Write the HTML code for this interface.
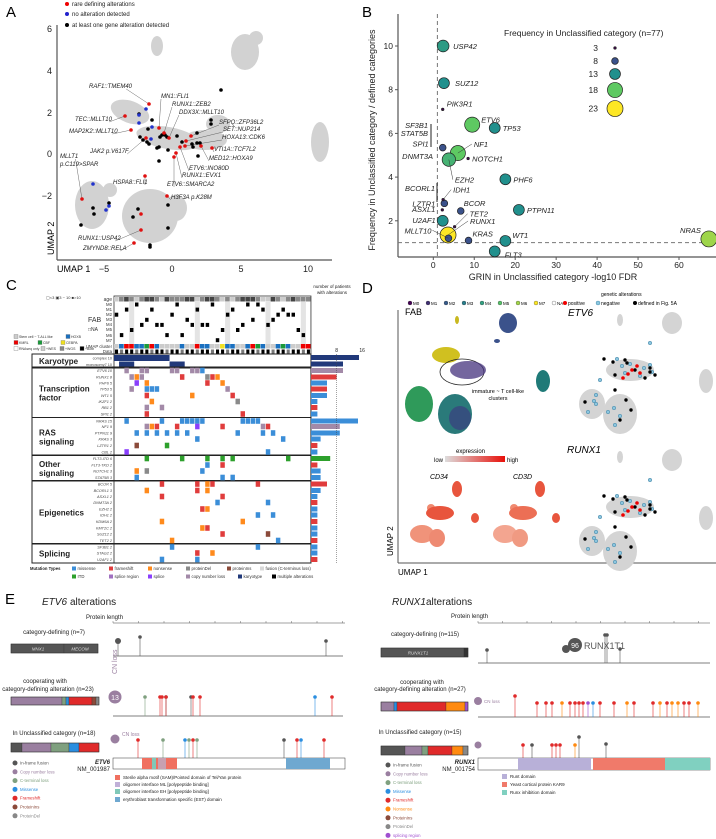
<!DOCTYPE html>
<html><head><meta charset="utf-8"><style>
body{margin:0;background:#fff;}
svg{display:block;font-family:"Liberation Sans",Arial,sans-serif;}
.it{font-style:italic}
</style></head><body>
<svg id="fig" width="716" height="839" viewBox="0 0 716 839" xmlns="http://www.w3.org/2000/svg">
<text x="6" y="17" font-size="15">A</text>
<text x="362" y="17" font-size="15">B</text>
<text x="6" y="290" font-size="15">C</text>
<text x="362" y="293" font-size="15">D</text>
<text x="5" y="604" font-size="15">E</text>

<g id="panelA">
 <g fill="#d2d2d2">
  <ellipse cx="157" cy="46" rx="6" ry="10"/>
  <ellipse cx="245" cy="52" rx="14" ry="18"/>
  <ellipse cx="256" cy="38" rx="7" ry="7"/>
  <ellipse cx="320" cy="142" rx="9" ry="20"/>
  <ellipse cx="130" cy="112" rx="20" ry="11" transform="rotate(20 130 112)"/>
  <ellipse cx="168" cy="138" rx="32" ry="11" transform="rotate(10 168 138)"/>
  <ellipse cx="205" cy="140" rx="22" ry="10"/>
  <ellipse cx="218" cy="124" rx="12" ry="9"/>
  <ellipse cx="92" cy="205" rx="17" ry="24"/>
  <ellipse cx="150" cy="216" rx="28" ry="27"/>
  <ellipse cx="176" cy="208" rx="11" ry="13"/>
  <ellipse cx="110" cy="190" rx="7" ry="7"/>
 </g>
 <line x1="57" y1="25" x2="57" y2="260" stroke="#555" stroke-width="1.2"/>
 <line x1="57" y1="260" x2="332" y2="260" stroke="#555" stroke-width="1.2"/>
 <g font-size="9" fill="#222" text-anchor="end">
  <text x="52" y="32">6</text><text x="52" y="74">4</text><text x="52" y="116">2</text><text x="52" y="157">0</text><text x="52" y="199">−2</text>
 </g>
 <g font-size="9" fill="#222" text-anchor="middle">
  <text x="104" y="272">−5</text><text x="172" y="272">0</text><text x="241" y="272">5</text><text x="308" y="272">10</text>
 </g>
 <text x="57" y="272" font-size="9">UMAP 1</text>
 <text x="54" y="255" font-size="9" transform="rotate(-90 54 255)">UMAP 2</text>
 <g font-size="6" fill="#222">
  <circle cx="67" cy="4" r="2" fill="#e00"/><text x="72" y="6">rare defining alterations</text>
  <circle cx="67" cy="14" r="2" fill="#22c"/><text x="72" y="16">no alteration detected</text>
  <circle cx="67" cy="25" r="2" fill="#000"/><text x="72" y="27">at least one gene alteration detected</text>
 </g>
 <g id="aLabels" font-size="6" class="it" fill="#222"></g>
 <g id="aPoints"></g>
</g>

<g id="panelB"></g>
<g id="panelC"></g>

<g id="panelD">
 <line x1="398" y1="310" x2="398" y2="563" stroke="#555" stroke-width="1"/>
 <line x1="398" y1="563" x2="716" y2="563" stroke="#555" stroke-width="1"/>
 <text x="398" y="575" font-size="8">UMAP 1</text>
 <text x="393" y="556" font-size="8" transform="rotate(-90 393 556)">UMAP 2</text>
 <text x="405" y="315" font-size="9">FAB</text>
 <text x="568" y="316" font-size="10" class="it">ETV6</text>
 <text x="567" y="453" font-size="10" class="it">RUNX1</text>
 <text x="601" y="296" font-size="5">genetic alterations</text>
 <g font-size="5">
  <circle cx="565" cy="303" r="2" fill="#e00"/><text x="568" y="305">positive</text>
  <circle cx="598" cy="303" r="2" fill="#8cc6df" stroke="#4a90b0" stroke-width=".5"/><text x="601" y="305">negative</text>
  <circle cx="635" cy="303" r="2" fill="#000"/><text x="638" y="305">defined in Fig. 5A</text>
 </g>
 <g id="fabLegend" font-size="4.5"></g>
 <g>
  <ellipse cx="457" cy="320" rx="2" ry="4" fill="#c8b820"/>
  <ellipse cx="508" cy="323" rx="9" ry="10" fill="#3b528b"/>
  <ellipse cx="497" cy="341" rx="3" ry="2" fill="#3b528b"/>
  <ellipse cx="446" cy="355" rx="14" ry="8" fill="#d0c020"/>
  <ellipse cx="462" cy="372" rx="22" ry="13" fill="none" stroke="#222" stroke-width=".8"/>
  <ellipse cx="468" cy="370" rx="18" ry="9" fill="#46337e" opacity=".75"/>
  <ellipse cx="543" cy="381" rx="7" ry="11" fill="#1f7a78"/>
  <ellipse cx="419" cy="404" rx="14" ry="18" fill="#2f9a5a"/>
  <ellipse cx="455" cy="414" rx="17" ry="20" fill="#2a7a7a"/>
  <ellipse cx="460" cy="418" rx="11" ry="12" fill="#3b3f80" opacity=".7"/>
 </g>
 <text x="498" y="393" font-size="5.5" text-anchor="middle">immature ~ T cell-like</text>
 <text x="498" y="400" font-size="5.5" text-anchor="middle">clusters</text>
 <text x="456" y="453" font-size="6">expression</text>
 <defs><linearGradient id="expg"><stop offset="0" stop-color="#ddd"/><stop offset="1" stop-color="#e8100a"/></linearGradient></defs>
 <rect x="445" y="456" width="60" height="6" fill="url(#expg)"/>
 <text x="443" y="462" font-size="6" text-anchor="end">low</text>
 <text x="507" y="462" font-size="6">high</text>
 <text x="430" y="479" font-size="7" class="it">CD34</text>
 <text x="513" y="479" font-size="7" class="it">CD3D</text>
 <g fill="#e8553d">
  <ellipse cx="457" cy="489" rx="5" ry="8"/><ellipse cx="431" cy="508" rx="4" ry="4" fill="#f08a70"/><ellipse cx="440" cy="513" rx="14" ry="7"/>
  <ellipse cx="422" cy="534" rx="12" ry="9" fill="#f0937a"/><ellipse cx="437" cy="538" rx="8" ry="9" fill="#ee8a72"/><ellipse cx="475" cy="518" rx="4" ry="5"/>
 </g>
 <g fill="#e8553d">
  <ellipse cx="540" cy="489" rx="5" ry="8"/><ellipse cx="514" cy="508" rx="4" ry="4" fill="#f08a70"/><ellipse cx="523" cy="513" rx="14" ry="7" fill="#ec6f55"/>
  <ellipse cx="505" cy="534" rx="12" ry="9" fill="#f3a590"/><ellipse cx="520" cy="538" rx="8" ry="9" fill="#f09a82"/><ellipse cx="556" cy="518" rx="4" ry="5"/>
 </g>
 <g id="geneUmaps"></g>
</g>

<g id="panelE"></g>
</svg>

<script>
const bGenes = ["USP42","SUZ12","PIK3R1","ETV6","TP53","SPI1","NF1","EZH2","NOTCH1","PHF6","IDH1","LZTR1","ASXL1","BCOR","PTPN11","U2AF1","TET2","RUNX1","MLLT10","KRAS","WT1","FLT3","NRAS"];
const bGrin = [2.4,2.6,2.3,9.5,15,2.3,6,3.8,8.5,17.6,2.4,2.7,2.2,6.7,20.9,2.3,5.2,3.6,3.7,8.6,17.6,15,67.3];
const bRatio = [10,8.3,7.1,6.4,6.25,5.35,5.1,4.8,4.85,3.9,2.97,2.8,2.5,2.45,2.5,2.0,1.73,1.35,1.2,1.1,1.08,0.6,1.17];
const bFreq = [14,13,3,18,13,8,18,16,3,13,3,8,3,8,13,13,3,23,8,8,13,13,20];
const bXTicks = [0,10,20,30,40,50,60];
const bYTicks = [2,4,6,8,10];
const bLegendSizes = [3,8,13,18,23];

const NS="http://www.w3.org/2000/svg";
function mk(tag, attrs, parent){const e=document.createElementNS(NS,tag);for(const k in attrs)e.setAttribute(k,attrs[k]);if(parent)parent.appendChild(e);return e;}
function viridis(t){const s=[[68,1,84],[59,82,139],[33,144,141],[94,201,98],[253,231,37]];t=Math.max(0,Math.min(1,t));const p=t*4,i=Math.min(3,Math.floor(p)),f=p-i;const c=s[i].map((v,k)=>Math.round(v+(s[i+1][k]-v)*f));return `rgb(${c})`;}

(function(){
 const g=document.getElementById('panelB');
 const X=v=>433.3+v*4.095, Y=v=>264.5-v*21.85;
 const R=n=>Math.min(0.42*n,8), C=n=>viridis((n-3)/20);
 let e;
 e=mk('line',{x1:398,y1:14,x2:398,y2:257,stroke:'#555','stroke-width':1.2},g);
 
 
 e=mk('line',{x1:398,y1:257,x2:716,y2:257,stroke:'#555','stroke-width':1.2},g);
 
 
 bXTicks.forEach(v=>{
  mk('line',{x1:X(v),y1:257,x2:X(v),y2:260,stroke:'#555'},g);
  e=mk('text',{x:X(v),y:268,'font-size':8.5,'text-anchor':'middle',fill:'#222'},g);e.textContent=v;
  
  
 });
 bYTicks.forEach(v=>{
  mk('line',{x1:395,y1:Y(v),x2:398,y2:Y(v),stroke:'#555'},g);
  e=mk('text',{x:393,y:Y(v)+3,'font-size':8.5,'text-anchor':'end',fill:'#222'},g);e.textContent=v;
  
  
 });
 e=mk('text',{x:553,y:280,'font-size':9,'text-anchor':'middle',fill:'#222'},g);e.textContent='GRIN in Unclassified category -log10 FDR';
 
 
 e=mk('text',{x:375,y:140,'font-size':9,'text-anchor':'middle',fill:'#222',transform:'rotate(-90 375 140)'},g);e.textContent='Frequency in Unclassified category / defined categories';
 
 
 e=mk('line',{x1:X(1),y1:14,x2:X(1),y2:257,stroke:'#777','stroke-dasharray':'4,3'},g);
 
 
 e=mk('line',{x1:398,y1:Y(1),x2:716,y2:Y(1),stroke:'#777','stroke-dasharray':'4,3'},g);
 
 
 const off={USP42:[10,3,'start'],SUZ12:[11,3,'start'],PIK3R1:[4,-3,'start'],ETV6:[9,-2,'start'],TP53:[8,3,'start'],NF1:[16,-6,'start',1],EZH2:[6,23,'start',1],NOTCH1:[4,3,'start'],PHF6:[8,3,'start'],IDH1:[10,-7,'start',1],LZTR1:[-9,3,'end'],ASXL1:[-7,2,'end'],BCOR:[3,-5,'start'],PTPN11:[8,3,'start'],U2AF1:[-7,2,'end'],TET2:[15,-10,'start',1],RUNX1:[22,-11,'start',1],MLLT10:[-17,-5,'end',1],KRAS:[4,-4,'start'],WT1:[7,-3,'start'],FLT3:[10,6,'start'],NRAS:[-8,-6,'end'],SPI1:[-14,-1,'end']};
 const order=bGenes.map((_,i)=>i).sort((a,b)=>bFreq[b]-bFreq[a]);
 order.forEach(i=>{
  const c=mk('circle',{cx:X(bGrin[i]),cy:Y(bRatio[i]),r:R(bFreq[i]),fill:C(bFreq[i]),stroke:'#222','stroke-width':0.7},g);
  
  
 });
 bGenes.forEach((n,i)=>{
  const o=off[n]||[6,3,'start'];const px=X(bGrin[i]),py=Y(bRatio[i]);
  if(o[3]){mk('line',{x1:px,y1:py,x2:px+o[0]-(o[2]==='end'?-1:2),y2:py+o[1]-3,stroke:'#333','stroke-width':0.5},g);}
  const t=mk('text',{x:px+o[0],y:py+o[1],'font-size':7.5,'font-style':'italic','text-anchor':o[2],fill:'#222'},g);t.textContent=n;
  
  
 });
 [['SF3B1',128],['STAT5B',136],['DNMT3A',159]].forEach(([n,y])=>{const t=mk('text',{x:n==='DNMT3A'?433:428,y:y,'font-size':7.5,'font-style':'italic','text-anchor':'end',fill:'#222'},g);t.textContent=n;
  
  });
 mk('line',{x1:431,y1:124,x2:431,y2:147,stroke:'#222'},g);
 [['BCORL1',191]].forEach(([n,y])=>{const t=mk('text',{x:435,y:y,'font-size':7.5,'font-style':'italic','text-anchor':'end',fill:'#222'},g);t.textContent=n;
  
  });
 mk('line',{x1:437,y1:183,x2:437,y2:202,stroke:'#222'},g);
 e=mk('text',{x:504,y:36,'font-size':8.5,fill:'#222'},g);e.textContent='Frequency in Unclassified category (n=77)';
 
 
 let ly=48;
 bLegendSizes.forEach((n,k)=>{
  const r=R(n); if(k>0) ly+=Math.max(13,R(bLegendSizes[k-1])+r+3);
  const c=mk('circle',{cx:615,cy:ly,r:r,fill:C(n),stroke:'#222','stroke-width':0.7},g);
  
  
  const t=mk('text',{x:598,y:ly+3,'font-size':8.5,'text-anchor':'end',fill:'#222'},g);t.textContent=n;
  
  
 });
})();

const aRed=[[149,104],[125,116],[131,130],[146,138],[159,128],[164,133],[169,138],[191,136],[186,141],[185,146],[201,146],[212,148],[180,147],[176,153],[174,157],[82,199],[145,176],[167,196],[141,214],[141,230],[134,243]];
const aBlue=[[146,109],[139,115],[139,123],[152,127],[151,139],[93,184],[106,210],[109,206]];
const aBlack=[[221,90],[139,114],[152,120],[148,129],[140,137],[143,140],[147,142],[149,144],[160,137],[162,135],[165,135],[167,137],[177,136],[182,142],[192,144],[193,147],[197,143],[200,143],[211,120],[211,124],[197,133],[198,156],[159,147],[157,148],[168,150],[159,161],[93,208],[94,214],[81,225],[109,203],[133,217],[138,209],[168,205],[168,228],[150,245],[150,247]];
const aLabels=[["RAF1::TMEM40",89,88,149,104],["MN1::FLI1",161,98,159,128],["RUNX1::ZEB2",172,106,164,133],["DDX3X::MLLT10",179,114,169,138],["SFPQ::ZFP36L2",219,124,191,136],["SET::NUP214",223,131,186,141],["HOXA13::CDK6",222,139,185,146],["VTI1A::TCF7L2",214,151,212,148],["MED12::HOXA9",209,160,201,146],["TEC::MLLT10",75,121,125,116],["MAP2K2::MLLT10",69,133,131,130],["JAK2 p.V617F",90,153,146,138],["MLLT1",60,158,82,199],["p.C119>SPAR",60,166,0,0],["ETV6::INO80D",189,170,180,147],["RUNX1::EVX1",182,177,176,153],["ETV6::SMARCA2",167,186,174,157],["HSPA8::FLI1",113,184,145,176],["H3F3A p.K28M",171,199,167,196],["RUNX1::USP42",78,240,141,230],["ZMYND8::RELA",83,250,134,243]];
(function(){
 const p=document.getElementById('aPoints'),L=document.getElementById('aLabels');
 aLabels.forEach(([t,x,y,px,py])=>{
  if(px){const w=t.length*3.1;const lx=(px<x)?x:(px>x+w?x+w:px);mk('line',{x1:lx,y1:y+1,x2:px,y2:py,stroke:'#444','stroke-width':0.4},L);}
  const e=mk('text',{x:x,y:y},L);e.textContent=t;
  
  
 });
 [[aBlack,'#000'],[aBlue,'#2233cc'],[aRed,'#e01010']].forEach(([arr,col])=>arr.forEach(([x,y])=>{
  const c=mk('circle',{cx:x,cy:y,r:1.8,fill:col},p);
  
  
 }));
})();

const cGenes=["ETV6","RUNX1","PHF6","TP53","WT1","IKZF1","RB1","SPI1","NRAS","NF1","PTPN11","KRAS","LZTR1","CBL","FLT3-ITD","FLT3-TKD","NOTCH1","STAT5B","BCOR","BCORL1","ASXL1","DNMT3A","EZH2","IDH1","KDM6A","KMT2C","SUZ12","TET2","SF3B1","STAG2","U2AF1"];
const cCounts=[10,8,5,5,5,2,2,2,15,9,9,3,2,2,6,2,3,3,5,3,2,2,2,2,2,2,2,2,2,2,2];
const cGroups=[["Transcription","factor",0,8],["RAS","signaling",8,14],["Other","signaling",14,18],["Epigenetics","",18,28],["Splicing","",28,31]];
const cCells=["0:2:cn","0:5:cn","0:6:cn","0:11:cn","0:12:cn","0:15:cn","0:16:cn","0:17:mis","1:3:cn","1:4:non","1:5:cn","1:13:fs","1:18:del","1:19:fs","1:20:non","2:4:spl","2:6:non","2:18:fs","2:21:non","3:3:cn","3:6:mis","3:7:mis","3:8:mis","3:22:cn","4:6:fs","4:15:non","4:23:fs","5:7:non","5:24:del","6:6:cn","6:9:cn","7:6:fs","7:25:fs","8:2:mis","8:9:mis","8:13:mis","8:14:mis","8:15:mis","8:16:mis","8:17:mis","8:25:mis","8:26:mis","8:27:mis","8:28:mis","9:6:cn","9:7:non","9:8:fs","9:12:fs","9:16:spl","9:21:fs","9:29:cn","9:30:fs","10:4:mis","10:6:mis","10:8:mis","10:10:mis","10:12:mis","10:14:mis","10:24:mis","10:29:mis","10:31:mis","11:16:mis","11:33:mis","12:4:ins","12:10:itd","13:2:spl","13:30:mis","14:6:itd","14:13:itd","14:18:itd","14:21:itd","14:23:itd","14:34:itd","15:18:mis","15:21:fs","16:4:non","16:6:del","16:17:mis","17:4:mis","17:21:mis","17:23:mis","18:9:fs","18:16:fs","18:18:non","18:19:fs","18:28:fs","19:6:non","19:16:fs","19:18:non","20:9:fs","20:21:fs","21:20:mis","21:30:mis","22:17:fs","22:18:non","23:28:mis","23:31:mis","24:9:non","24:25:non","25:17:non","25:18:fs","26:21:fs","26:30:ins","27:11:non","27:32:mis","28:11:mis","28:28:mis","29:16:fs","29:19:non","30:9:mis","30:16:mis"];
const cAge="12321233213222331233212123332113212322231";
const cFab="26150431446206341440752154030143212256-4";
const cCluster="ABCCBBDCBAAAABAACBBAAEFBAABCDBAABDBAACGB";
(function(){
 const g=document.getElementById('panelC');
 const col={mis:'#3b8ed8',fs:'#e03c3c',non:'#ff8a1c',del:'#8a8a8a',ins:'#8b4a3a',fus:'#d8d8d8',itd:'#2da02c',spr:'#a070c0',spl:'#8a3ffc',cn:'#a38aa8',kar:'#21397a',mul:'#000'};
 const x0=114,cw=5.05,ncol=39,x1=x0+cw*ncol;
 const rowY=[370.5,377,383,389,395.5,401.5,407.5,414,421,426.5,433,439,445.5,452,458.5,465,471,477.5,484,490.5,496.5,502.5,509,515,521.5,528,534,540.5,547,553,559.5];
 let e;
 e=mk('rect',{x:x0,y:296,width:x1-x0,height:58,fill:'#fff',stroke:'#333','stroke-width':0.8},g);
 
 
 [3,16,22,30,37].forEach(c=>mk('rect',{x:x0+c*cw,y:302,width:cw,height:42,fill:'#e4e4e4'},g));
 const ageCol={1:'#ccc',2:'#888',3:'#444'};
 for(let c=0;c<ncol;c++){
  e=mk('rect',{x:x0+c*cw,y:297,width:cw-0.4,height:4.5,fill:ageCol[cAge[c]]},g);
  
  
  const f=cFab[c]; if(f!=='-'){e=mk('rect',{x:x0+c*cw+0.8,y:302.5+(+f)*5.1,width:cw-1.6,height:4,fill:'#000'},g);
  
  }
  const cc={A:'#ccc',B:'#1a70c0',C:'#e00',D:'#1a9a3a',E:'#f0e020',F:'#1a70c0',G:'#e00'}[cCluster[c]];
  e=mk('rect',{x:x0+c*cw,y:344,width:cw-0.4,height:4.5,fill:cc},g);
  
  
  e=mk('rect',{x:x0+c*cw+1,y:349.5,width:cw-2,height:4,fill:(c%3===1?'#777':'#000')},g);
  
  
 }
 const hdr=[['age',301],['M0',306],['M1',311],['M2',316],['M3',321],['M4',326],['M5',331],['M6',337],['M7',342],['UMAP cluster',348],['Data',353]];
 hdr.forEach(([t,y])=>{e=mk('text',{x:112,y:y,'font-size':t==='age'?5:4.3,'text-anchor':'end',fill:'#333'},g);e.textContent=t;
  
  });
 e=mk('text',{x:88,y:322,'font-size':7,fill:'#333'},g);e.textContent='FAB';
 
 
 e=mk('text',{x:88,y:331,'font-size':5,fill:'#333'},g);e.textContent='□NA';
 
 
 e=mk('text',{x:46,y:299,'font-size':4,fill:'#333'},g);e.textContent='▢<3  ▣3 ~ 10  ■>10';
 
 
 [['Stem cell ~ T-ALL like','#ccc',14,338],['HOXB','#1a70c0',66,338],['KMRL','#e00',14,344],['CBF','#1a9a3a',38,344],['CEBPA','#f0e020',61,344],['RNAseq only','#fff',14,350],['+WES','#ccc',41,350],['+WGS','#888',60,350],['+Both','#000',80,350]].forEach(([t,c,x,y])=>{
  mk('rect',{x:x,y:y-3.5,width:4,height:4,fill:c,stroke:'#666','stroke-width':0.3},g);
  e=mk('text',{x:x+5,y:y,'font-size':3.5,fill:'#333'},g);e.textContent=t;
  
  });
 e=mk('rect',{x:32,y:354,width:x1-32,height:14,fill:'none',stroke:'#222','stroke-width':1},g);
 
 
 e=mk('text',{x:39,y:364,'font-size':8,'font-weight':'bold',fill:'#222'},g);e.textContent='Karyotype';
 
 
 mk('line',{x1:x0,y1:354,x2:x0,y2:563,stroke:'#222','stroke-width':0.8},g);
 e=mk('rect',{x:x0,y:355,width:cw*11,height:6,fill:col.kar},g);
 
 
 e=mk('rect',{x:x0+cw,y:361.5,width:cw*3,height:6,fill:col.kar},g);
 
 
 e=mk('rect',{x:x0+cw*11,y:361.5,width:cw*3,height:6,fill:col.kar},g);
 
 
 [['complex  10',359.5],['monosomy7  10',366]].forEach(([t,y])=>{e=mk('text',{x:112,y:y,'font-size':3.8,'text-anchor':'end',fill:'#444'},g);e.textContent=t;
  
  });
 const BX=x=>311+x*3.2;
 e=mk('rect',{x:311,y:355,width:BX(15)-311,height:5,fill:col.kar},g);
 
 
 e=mk('rect',{x:311,y:361.5,width:BX(10)-311,height:5,fill:col.kar},g);
 
 
 cGroups.forEach(([a,b,s,t])=>{
  const y0=rowY[s]-3.5,y1=rowY[t-1]+3.5;
  e=mk('rect',{x:32,y:y0,width:x1-32,height:y1-y0,fill:'none',stroke:'#222','stroke-width':1},g);
  
  
  const my=(y0+y1)/2;
  e=mk('text',{x:39,y:b?my-1:my+3,'font-size':8,'font-weight':'bold',fill:'#222'},g);e.textContent=a;
  
  
  if(b){e=mk('text',{x:39,y:my+8,'font-size':8,'font-weight':'bold',fill:'#222'},g);e.textContent=b;
  
  }
 });
 cGenes.forEach((n,i)=>{
  e=mk('text',{x:112,y:rowY[i]+1.5,'font-size':3.8,'text-anchor':'end','font-style':'italic',fill:'#444'},g);e.textContent=n+'  '+cCounts[i];
  
  
  const dom={0:'cn',1:'fs',8:'mis',9:'cn',10:'mis',14:'itd'}[i];
  const bc=dom?col[dom]:(i%3===0?col.fs:col.mis);
  e=mk('rect',{x:311,y:rowY[i]-2.5,width:Math.min(BX(cCounts[i]),358)-311,height:5,fill:bc},g);
  
  
 });
 cCells.forEach(s=>{
  const [r,c,t]=s.split(':');
  e=mk('rect',{x:x0+(+c)*cw+0.3,y:rowY[+r]-2.8,width:cw-0.6,height:5.6,fill:col[t]},g);
  
  
 });
 mk('line',{x1:BX(8),y1:354,x2:BX(8),y2:563,stroke:'#444','stroke-width':0.5,'stroke-dasharray':'1,1'},g);
 e=mk('text',{x:332,y:288,'font-size':4.5,'text-anchor':'middle',fill:'#222'},g);e.textContent='number of patients';
 
 
 e=mk('text',{x:332,y:294,'font-size':4.5,'text-anchor':'middle',fill:'#222'},g);e.textContent='with alterations';
 
 
 [[8,BX(8)],[16,BX(16)]].forEach(([v,x])=>{e=mk('text',{x:x,y:352,'font-size':5,'text-anchor':'middle',fill:'#222'},g);e.textContent=v;
  
  });
 e=mk('text',{x:30,y:570,'font-size':4.2,'font-weight':'bold',fill:'#222'},g);e.textContent='Mutation Types';
 
 
 [['missense','mis',72,570],['frameshift','fs',109,570],['nonsense','non',148,570],['proteinDel','del',186,570],['proteinIns','ins',227,570],['fusion (C-terminus loss)','fus',260,570],['ITD','itd',72,578],['splice region','spr',109,578],['splice','spl',148,578],['copy number loss','cn',186,578],['karyotype','kar',238,578],['multiple alterations','mul',272,578]].forEach(([t,k,x,y])=>{
  mk('rect',{x:x,y:y-3.5,width:4,height:4,fill:col[k]},g);
  e=mk('text',{x:x+5.5,y:y,'font-size':4.3,fill:'#333'},g);e.textContent=t;
  
  
 });
})();

const fabNames=["M0","M1","M2","M3","M4","M5","M6","M7","NA"];
const etvPos=[[632,370],[628,374],[640,373],[623,378],[637,366]];
const etvNeg=[[617,359],[622,366],[630,364],[644,368],[650,365],[625,373],[640,376],[652,372],[594,401],[596,404],[614,408],[620,416],[608,412],[600,380],[650,343],[615,425],[588,412],[596,395]];
const etvDef=[[604,359],[613,362],[625,360],[635,370],[645,378],[650,372],[655,375],[615,375],[615,390],[626,400],[631,410],[620,420],[585,402],[627,363],[650,368]];
(function(){
 const L=document.getElementById('fabLegend');
 fabNames.forEach((n,i)=>{const x=410+i*18;
  mk('circle',{cx:x,cy:303,r:2,fill:n==='NA'?'#fff':viridis(i/7),stroke:'#333','stroke-width':0.3},L);
  const e=mk('text',{x:x+3,y:305},L);e.textContent=n;
  
  
 });
 const G=document.getElementById('geneUmaps');
 [0,137].forEach(dy=>{
  const grp=mk('g',{transform:`translate(0 ${dy})`},G);
  
  
  [[620,320,3,6],[672,323,10,11],[630,370,24,11],[592,404,13,15],[620,414,17,20],[706,381,7,12]].forEach(([x,y,rx,ry])=>mk('ellipse',{cx:x,cy:y,rx:rx,ry:ry,fill:'#d4d4d4'},grp));
  etvNeg.forEach(([x,y])=>{const c=mk('circle',{cx:x,cy:y,r:1.8,fill:'#8cc6df',stroke:'#3d7fa0','stroke-width':0.5},grp);
   
   });
  etvDef.forEach(([x,y])=>{const c=mk('circle',{cx:x,cy:y,r:1.7,fill:'#000'},grp);
   
   });
  etvPos.forEach(([x,y])=>{const c=mk('circle',{cx:x,cy:y,r:1.8,fill:'#e00'},grp);
   
   });
 });
})();

(function(){
 const g=document.getElementById('panelE');
 function T(x,y,s,txt,o,nm){const e=mk('text',Object.assign({x:x,y:y,'font-size':s,fill:'#222'},o||{}),g);e.textContent=txt;
  
  return e;}
 function bar(x,y,h,segs,nm){let cx=x;segs.forEach(([w,c])=>{mk('rect',{x:cx,y:y,width:w,height:h,fill:c,stroke:'#333','stroke-width':0.3},g);cx+=w;});
  const r=mk('rect',{x:x,y:y,width:cx-x,height:h,fill:'none',stroke:'#333','stroke-width':0.5},g);
  
  }
 function lol(x,yb,yt,c,r){mk('line',{x1:x,y1:yb,x2:x,y2:yt,stroke:c,'stroke-width':0.6},g);const e=mk('circle',{cx:x,cy:yt,r:r||1.8,fill:c},g);
  
  }
 T(42,605,10,'ETV6',{'font-style':'italic'},'etv6-title');T(70,605,10,' alterations',{},'etv6-title-suffix');
 T(86,619,6,'Protein length',{},'etv6-protein-length-label');
 mk('line',{x1:113,y1:623,x2:345,y2:623,stroke:'#444','stroke-width':0.6},g);
 for(let k=0;k<=9;k++){mk('line',{x1:113+k*25.5,y1:621,x2:113+k*25.5,y2:623,stroke:'#444','stroke-width':0.4},g);}
 T(54,634,6,'category-defining (n=7)',{'text-anchor':'middle'},'etv6-defining-label');
 bar(11,644,9,[[53,'#555'],[34,'#555']],'etv6-defining-bar');
 T(38,650.5,4.5,'MNX1',{'text-anchor':'middle',fill:'#ddd','font-style':'italic'});T(80,650.5,4.5,'MECOM',{'text-anchor':'middle',fill:'#ddd','font-style':'italic'});
 mk('line',{x1:113,y1:656,x2:343,y2:656,stroke:'#555','stroke-width':0.8},g);
 lol(118,656,641,'#555',3);lol(140,656,637,'#555');lol(326,656,641,'#555');
 T(45,683,6,'cooperating with',{'text-anchor':'middle'},'etv6-cooperating-label');T(48,691,6,'category-defining alteration (n=23)',{'text-anchor':'middle'});
 bar(11,697,8,[[51,'#9a7fa0'],[4,'#7fa07f'],[3,'#2a8ee0'],[23,'#e02a2a'],[4,'#8b4a3a'],[3,'#888']],'etv6-cooperating-bar');
 mk('line',{x1:113,y1:716,x2:343,y2:716,stroke:'#555','stroke-width':0.8},g);
 mk('circle',{cx:115,cy:697,r:6.5,fill:'#9a7fa0'},g);T(115,700,7,'13',{'text-anchor':'middle',fill:'#fff'},'cn-loss-count');
 T(115,672,7,'CN loss',{fill:'#9a7fa0',transform:'rotate(-90 117 672)'},'cn-loss-label');
 [[145,'#7fa07f'],[160,'#e02a2a'],[162,'#e02a2a'],[166,'#555'],[166,'#e02a2a'],[191,'#555'],[193,'#e02a2a'],[200,'#e02a2a'],[315,'#2a8ee0'],[332,'#e02a2a']].forEach(([x,c])=>lol(x,716,697,c));
 T(54,735,6,'In Unclassified category (n=18)',{'text-anchor':'middle'},'etv6-unclassified-label');
 bar(11,743,9,[[11,'#555'],[29,'#9a7fa0'],[18,'#7fa07f'],[10,'#2a8ee0'],[20,'#e02a2a']],'etv6-unclassified-bar');
 mk('circle',{cx:115,cy:739,r:4.5,fill:'#9a7fa0'},g);T(122,736,5,'CN loss',{fill:'#9a7fa0'});
 [[138,'#e02a2a'],[163,'#7fa07f'],[185,'#2a8ee0'],[189,'#7fa07f'],[193,'#e02a2a'],[197,'#7fa07f'],[284,'#555'],[297,'#e02a2a'],[301,'#2a8ee0'],[324,'#e02a2a']].forEach(([x,c])=>lol(x,758,740,c));
 T(110,764,6,'ETV6',{'text-anchor':'end','font-weight':'bold','font-style':'italic'},'etv6-gene-label');T(110,771,6,'NM_001987',{'text-anchor':'end'});
 mk('rect',{x:113,y:758,width:232,height:11,fill:'#fff',stroke:'#333','stroke-width':0.5},g);
 let e=mk('rect',{x:142,y:758,width:35,height:11,fill:'#f07060'},g);
 
 
 mk('rect',{x:152,y:758,width:4,height:11,fill:'#80c8b8'},g);mk('rect',{x:158,y:758,width:8,height:11,fill:'#c8a0b0'},g);
 e=mk('rect',{x:286,y:758,width:44,height:11,fill:'#6fa8d0'},g);
 
 
 [['Sterile alpha motif (SAM)/Pointed domain of Tel/Yan protein','#f07060',779],['oligomer interface ML [polypeptide binding]','#c0b0d8',786],['oligomer interface EH [polypeptide binding]','#80c8b8',793],['erythroblast transformation specific (EST) domain','#6fa8d0',801]].forEach(([t,c,y])=>{mk('rect',{x:115,y:y-4,width:5,height:5,fill:c},g);T(123,y,4.5,t,{},'domain-legend-entry');});
 const leg=[['In-frame fusion','#555'],['Copy number loss','#9a7fa0'],['C-terminal loss','#7fa07f'],['Missense','#2a8ee0'],['Frameshift','#e02a2a'],['ProteinIns','#8b4a3a'],['ProteinDel','#888']];
 leg.forEach(([t,c],i)=>{const y=763+i*8.8;mk('circle',{cx:15,cy:y,r:2.5,fill:c},g);T(20,y+1.5,4.3,t,{fill:c},'alteration-legend-entry');});
 T(392,605,10,'RUNX1',{'font-style':'italic'},'runx1-title');T(426,605,10,' alterations',{},'runx1-title-suffix');
 T(451,618,6,'Protein length',{},'runx1-protein-length-label');
 mk('line',{x1:478,y1:623,x2:710,y2:623,stroke:'#444','stroke-width':0.6},g);
 for(let k=0;k<=9;k++){mk('line',{x1:478+k*24.5,y1:621,x2:478+k*24.5,y2:623,stroke:'#444','stroke-width':0.4},g);}
 T(425,636,6,'category-defining (n=115)',{'text-anchor':'middle'},'runx1-defining-label');
 bar(381,648,9,[[83,'#555'],[4,'#333']],'runx1-defining-bar');
 T(418,654.5,4.5,'RUNX1T1',{'text-anchor':'middle',fill:'#ddd','font-style':'italic'});
 mk('line',{x1:478,y1:663,x2:710,y2:663,stroke:'#555','stroke-width':0.8},g);
 lol(487,663,650,'#555');lol(607,663,635,'#555');lol(605,663,635,'#555');lol(620,663,649,'#555');
 mk('circle',{cx:566,cy:649,r:4,fill:'#555'},g);
 e=mk('circle',{cx:575,cy:645,r:7,fill:'#555'},g);
 
 
 T(575,648,7,'96',{'text-anchor':'middle',fill:'#fff'});T(584,649,9,'RUNX1T1',{fill:'#555'},'runx1t1-label');
 T(422,684,6,'cooperating with',{'text-anchor':'middle'},'runx1-cooperating-label');T(420,691,6,'category-defining alteration (n=27)',{'text-anchor':'middle'});
 bar(381,702,9,[[13,'#9a7fa0'],[3,'#2a8ee0'],[49,'#e02a2a'],[19,'#ff8a10'],[3,'#a050d0']],'runx1-cooperating-bar');
 mk('line',{x1:478,y1:717,x2:710,y2:717,stroke:'#555','stroke-width':0.8},g);
 mk('circle',{cx:478,cy:701,r:4,fill:'#9a7fa0'},g);T(484,703,4.5,'CN loss',{fill:'#9a7fa0'});
 [[515,'#e02a2a',696],[537,'#e02a2a',703],[546,'#e02a2a',703],[552,'#e02a2a',703],[562,'#ff8a10',703],[570,'#e02a2a',703],[575,'#e02a2a',703],[579,'#e02a2a',703],[583,'#e02a2a',703],[588,'#a050d0',703],[593,'#2a8ee0',703],[600,'#e02a2a',703],[614,'#e02a2a',703],[627,'#ff8a10',703],[634,'#e02a2a',703],[653,'#e02a2a',703],[660,'#ff8a10',703],[667,'#e02a2a',703],[672,'#ff8a10',703],[678,'#ff8a10',703],[684,'#e02a2a',703],[689,'#e02a2a',703],[698,'#ff8a10',703]].forEach(([x,c,y])=>lol(x,717,y,c));
 T(420,734,6,'In Unclassified category (n=15)',{'text-anchor':'middle'},'runx1-unclassified-label');
 bar(381,746,9,[[24,'#555'],[17,'#9a7fa0'],[6,'#7fa07f'],[24,'#e02a2a'],[11,'#ff8a10'],[5,'#888']],'runx1-unclassified-bar');
 mk('circle',{cx:478,cy:745,r:3.5,fill:'#9a7fa0'},g);
 [[523,'#e02a2a',745],[532,'#555',745],[552,'#e02a2a',745],[556,'#e02a2a',745],[560,'#e02a2a',745],[575,'#ff8a10',745],[579,'#555',737],[606,'#555',744]].forEach(([x,c,y])=>lol(x,758,y,c));
 T(475,764,6,'RUNX1',{'text-anchor':'end','font-weight':'bold','font-style':'italic'},'runx1-gene-label');T(475,771,6,'NM_001754',{'text-anchor':'end'});
 mk('rect',{x:478,y:758,width:232,height:12,fill:'#fff',stroke:'#333','stroke-width':0.5},g);
 e=mk('rect',{x:518,y:758,width:73,height:12,fill:'#b8b0d8'},g);
 
 
 e=mk('rect',{x:593,y:758,width:72,height:12,fill:'#f07a6a'},g);
 
 
 e=mk('rect',{x:665,y:758,width:45,height:12,fill:'#80d0c0'},g);
 
 
 [['Runt domain','#b8b0d8',778],['Yeast cortical protein KAR9','#f07a6a',786],['Runx inhibition domain','#80d0c0',794]].forEach(([t,c,y])=>{mk('rect',{x:502,y:y-4,width:5,height:5,fill:c},g);T(510,y,4.5,t,{},'domain-legend-entry');});
 leg.slice(0,4).concat([['Frameshift','#e02a2a'],['Nonsense','#ff8a10'],['ProteinIns','#8b4a3a'],['ProteinDel','#888'],['splicing region','#a050d0']]).forEach(([t,c],i)=>{const y=765+i*8.8;mk('circle',{cx:388,cy:y,r:2.5,fill:c},g);T(393,y+1.5,4.3,t,{fill:c},'alteration-legend-entry');});
})();
</script>
</body></html>
